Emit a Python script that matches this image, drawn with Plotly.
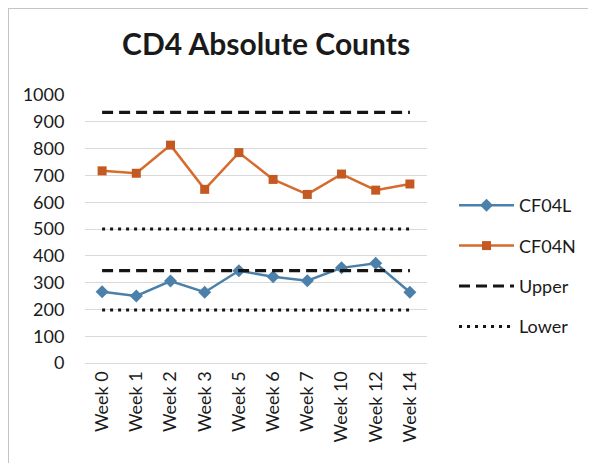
import plotly.graph_objects as go

weeks = ["Week 0", "Week 1", "Week 2", "Week 3", "Week 5", "Week 6", "Week 7", "Week 10", "Week 12", "Week 14"]
cf04l = [266, 250, 306, 264, 344, 322, 307, 355, 372, 264]
cf04n = [717, 708, 813, 648, 785, 685, 629, 705, 645, 668]
upper_high = 935
upper_low = 345
lower_high = 500
lower_low = 198

y_ticks = list(range(0, 1001, 100))

FONT = "Lato, Open Sans, sans-serif"
TXT = "#1a1a1a"


def two_level(a, b):
    return [a] * len(weeks) + [None] + [b] * len(weeks)


x2 = weeks + [None] + weeks

fig = go.Figure()
fig.add_trace(go.Scatter(x=weeks, y=cf04l, name="CF04L", mode="lines+markers", legendgroup="a",
                         line=dict(color="#4a80aa", width=2.5),
                         marker=dict(symbol="diamond", size=10, color="#4a80aa")))
fig.add_trace(go.Scatter(x=weeks, y=cf04n, name="CF04N", mode="lines+markers", legendgroup="b",
                         line=dict(color="#d56b2d", width=2.5),
                         marker=dict(symbol="square", size=9, color="#c45a22")))
fig.add_trace(go.Scatter(x=x2, y=two_level(upper_high, upper_low), name="Upper", mode="lines", legendgroup="c",
                         line=dict(color="#151515", width=3.2, dash="11px,6px"), connectgaps=False))
fig.add_trace(go.Scatter(x=x2, y=two_level(lower_high, lower_low), name="Lower", mode="lines", legendgroup="d",
                         line=dict(color="#151515", width=3, dash="3px,5px"), connectgaps=False))

PW, PH = 342, 268
L, T = 77, 87

fig.update_layout(
    width=596, height=463,
    margin=dict(l=L, r=596 - L - PW, t=T, b=463 - T - PH),
    paper_bgcolor="white", plot_bgcolor="white",
    font=dict(family=FONT, size=18, color=TXT),
    title=dict(text="<b>CD4 Absolute Counts</b>", x=0.433, xanchor="center", y=0.922, yanchor="middle",
               font=dict(family=FONT, size=30, color=TXT)),
    showlegend=True,
    legend=dict(x=1.079, y=0.362, xanchor="left", yanchor="middle", font=dict(size=18, color=TXT),
                bgcolor="rgba(0,0,0,0)", tracegroupgap=14, itemwidth=55),
    shapes=[dict(type="rect", xref="paper", yref="paper",
                 x0=-L / PW, x1=2.0, y0=-1.0, y1=(T + PH) / PH,
                 line=dict(color="#c4c4c4", width=2), fillcolor="rgba(0,0,0,0)", layer="below")],
)
fig.update_xaxes(type="category", categoryorder="array", categoryarray=weeks,
                 range=[-0.5, len(weeks) - 0.5], tickangle=-90, showgrid=False,
                 showline=True, linecolor="#d9d9d9", linewidth=1, ticks="", tickfont=dict(size=18))
fig.update_yaxes(range=[0, 1000], tickvals=y_ticks, showgrid=True, gridcolor="#d9d9d9", gridwidth=1,
                 zeroline=False, showline=False, ticks="outside", ticklen=16,
                 tickcolor="rgba(0,0,0,0)", tickfont=dict(size=18), automargin=False)

fig.write_html("out.html")
